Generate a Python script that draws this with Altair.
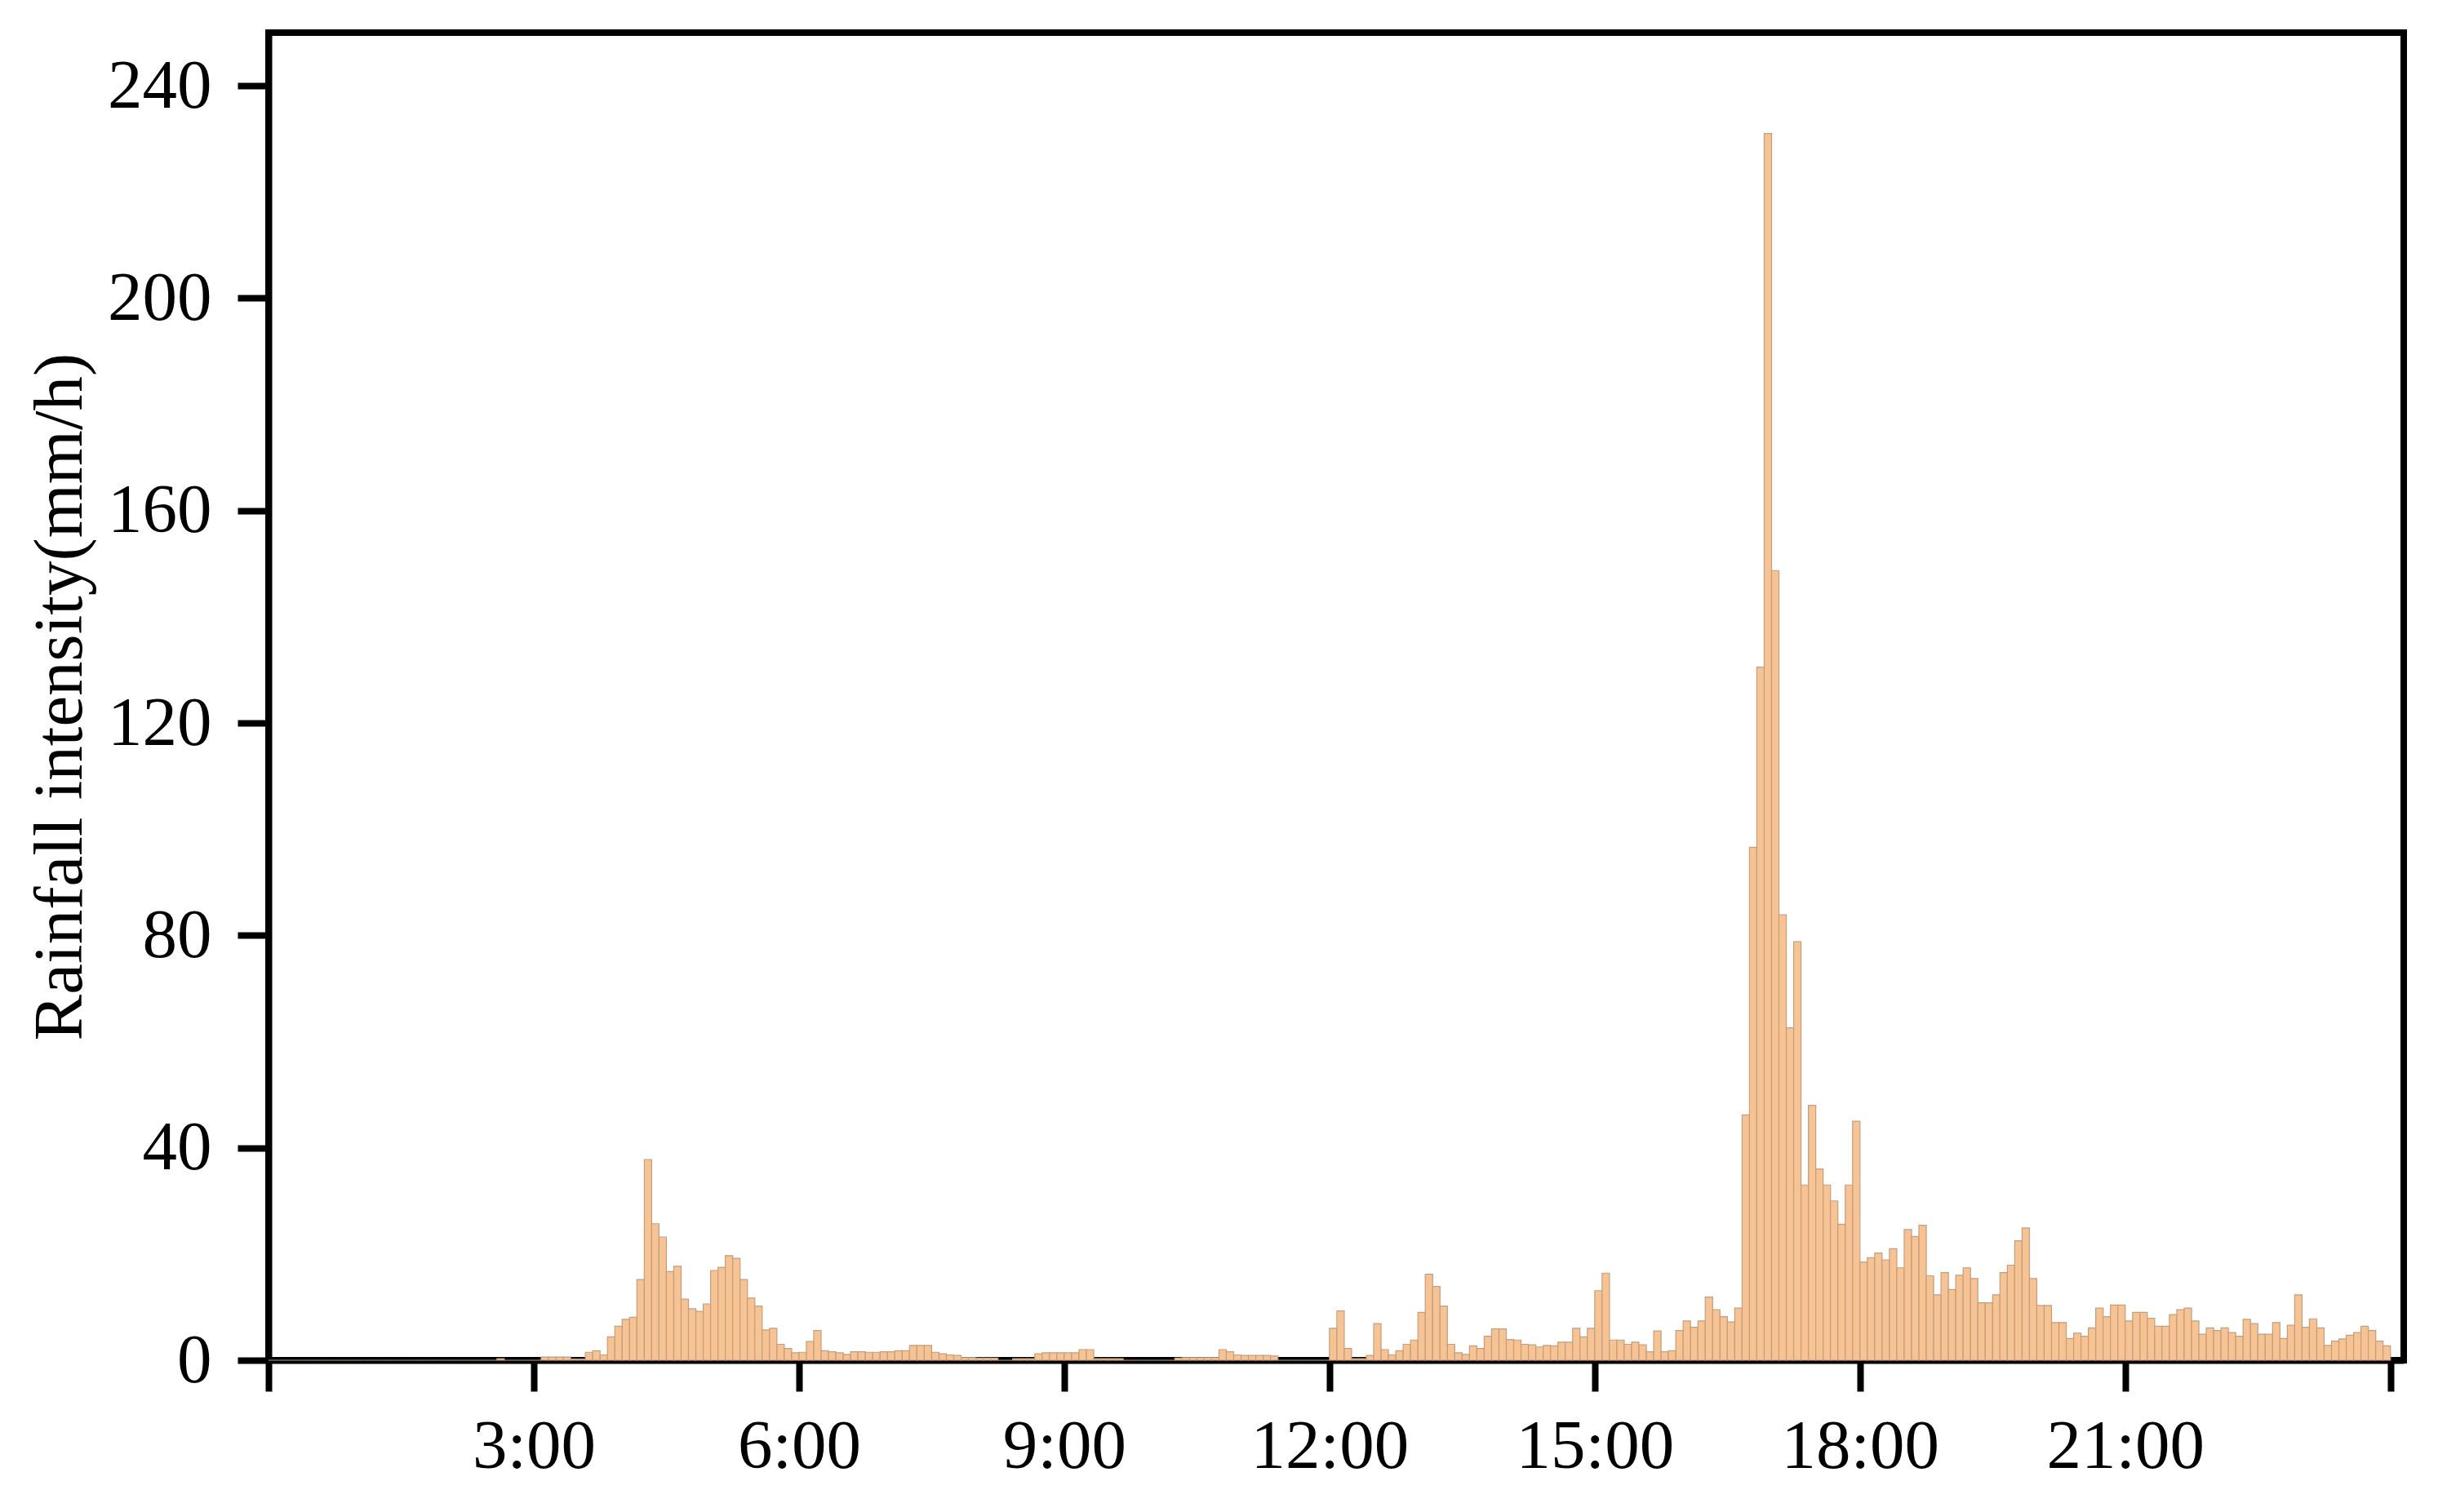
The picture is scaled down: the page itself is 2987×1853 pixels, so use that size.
import altair as alt
import pandas as pd

# Rainfall intensity (mm/h) in 5-minute steps, one row per hour
rain_00_06 = [
    0, 0, 0, 0, 0, 0, 0, 0, 0, 0, 0, 0,
    0, 0, 0, 0, 0, 0, 0, 0, 0, 0, 0, 0,
    0, 0, 0, 0, 0, 0, 0, 0.3, 0, 0, 0, 0,
    0, 0.6, 0.6, 0.6, 0.6, 0.2, 0.2, 1.5, 1.8, 1.0, 4.4, 6.4,
    7.7, 8.1, 15.2, 37.8, 25.7, 23.2, 16.7, 17.7, 11.5, 9.7, 9.2, 10.6,
    16.9, 17.5, 19.7, 19.2, 15.2, 11.7, 10.2, 5.7, 6.0, 3.0, 2.2, 1.4,
]
rain_06_12 = [
    1.5, 3.5, 5.6, 1.8, 1.6, 1.4, 1.1, 1.6, 1.6, 1.5, 1.5, 1.6,
    1.6, 1.8, 1.8, 2.8, 2.8, 2.8, 1.5, 1.2, 1.0, 0.9, 0.5, 0.5,
    0.4, 0.4, 0.4, 0, 0, 0.3, 0.3, 0.3, 1.2, 1.4, 1.4, 1.4,
    1.4, 1.4, 2.0, 2.0, 0.3, 0.3, 0.3, 0.3, 0, 0, 0, 0,
    0, 0, 0, 0.4, 0.5, 0.5, 0.5, 0.5, 0.5, 2.0, 1.6, 1.0,
    0.9, 0.9, 0.9, 0.9, 0.8, 0, 0, 0, 0, 0, 0, 0,
]
rain_12_18 = [
    6.0, 9.3, 2.2, 0.3, 0.3, 0.9, 6.9, 2.0, 1.0, 1.8, 3.0, 3.8,
    9.0, 16.2, 13.9, 10.2, 3.0, 1.4, 1.1, 2.7, 2.2, 4.5, 5.9, 5.9,
    3.9, 3.8, 3.0, 2.9, 2.5, 2.8, 2.7, 3.4, 3.4, 6.0, 4.4, 6.0,
    13.1, 16.4, 3.8, 3.8, 3.0, 3.4, 2.9, 1.6, 5.5, 1.6, 1.8, 5.6,
    7.4, 6.2, 7.4, 11.9, 9.5, 8.2, 7.2, 9.8, 46.2, 96.6, 130.5, 231.0,
    148.7, 83.9, 62.6, 78.8, 33.0, 48.0, 36.0, 33.0, 30.0, 25.6, 33.0, 45.0,
]
rain_18_24 = [
    18.5, 19.3, 20.2, 18.9, 21.0, 17.4, 24.6, 23.3, 25.4, 15.9, 12.3, 16.5,
    13.3, 16.0, 17.4, 15.4, 10.8, 10.8, 12.3, 16.5, 17.9, 22.5, 24.9, 15.4,
    10.3, 10.3, 7.1, 7.1, 4.1, 5.1, 4.5, 6.1, 9.8, 8.2, 10.4, 10.4,
    7.4, 9.0, 9.0, 7.9, 6.4, 6.4, 8.6, 9.5, 9.8, 7.4, 4.9, 6.1,
    5.6, 6.1, 5.2, 4.5, 7.7, 6.9, 4.9, 4.9, 7.1, 4.1, 6.6, 12.3,
    6.2, 7.8, 6.1, 2.8, 3.6, 4.0, 4.7, 5.2, 6.4, 5.6, 3.6, 2.7,
]
step_minutes = 5
x_tick_minutes = [0, 180, 360, 540, 720, 900, 1080, 1260, 1440]
y_ticks = [0, 40, 80, 120, 160, 200, 240]

values = rain_00_06 + rain_06_12 + rain_12_18 + rain_18_24
df = pd.DataFrame({
    "start": [i * step_minutes for i in range(len(values))],
    "end": [(i + 1) * step_minutes for i in range(len(values))],
    "rain": values,
})

FONT = "Liberation Serif"
LW = 8

bars = alt.Chart(df).mark_bar(
    fill="#F8C393", stroke="#C29E80", strokeWidth=1.2
).encode(
    x=alt.X("start:Q",
            scale=alt.Scale(domain=[0, 1449], nice=False, zero=False),
            axis=alt.Axis(values=x_tick_minutes, title=None, grid=False,
                          labelExpr="(datum.value == 0 || datum.value == 1440) ? '' : floor(datum.value/60) + ':00'",
                          labelFont=FONT, labelFontSize=85, labelColor="black",
                          labelLimit=0,
                          tickSize=38, tickWidth=LW, tickColor="black",
                          domainColor="black", domainWidth=LW,
                          labelPadding=26, labelFlush=False)),
    x2="end:Q",
    y=alt.Y("rain:Q",
            scale=alt.Scale(domain=[0, 250], nice=False),
            axis=alt.Axis(values=y_ticks, title="Rainfall intensity(mm/h)", grid=False,
                          labelFont=FONT, labelFontSize=85, labelColor="black",
                          labelLimit=0,
                          titleFont=FONT, titleFontSize=85, titleFontWeight="normal",
                          titleColor="black", titlePadding=14,
                          tickSize=38, tickWidth=LW, tickColor="black",
                          domainColor="black", domainWidth=LW,
                          labelPadding=32, labelFlush=False)),
    y2=alt.datum(0),
)

chart = bars.properties(
    width=2616, height=1627,
    autosize=alt.AutoSizeParams(type="none"),
    padding={"left": 321, "top": 32, "right": 34, "bottom": 178},
).configure(
    background="white",
    view=alt.ViewConfig(stroke="black", strokeWidth=LW),
)

chart.save("out.html", embed_options={"renderer": "svg", "actions": False})
